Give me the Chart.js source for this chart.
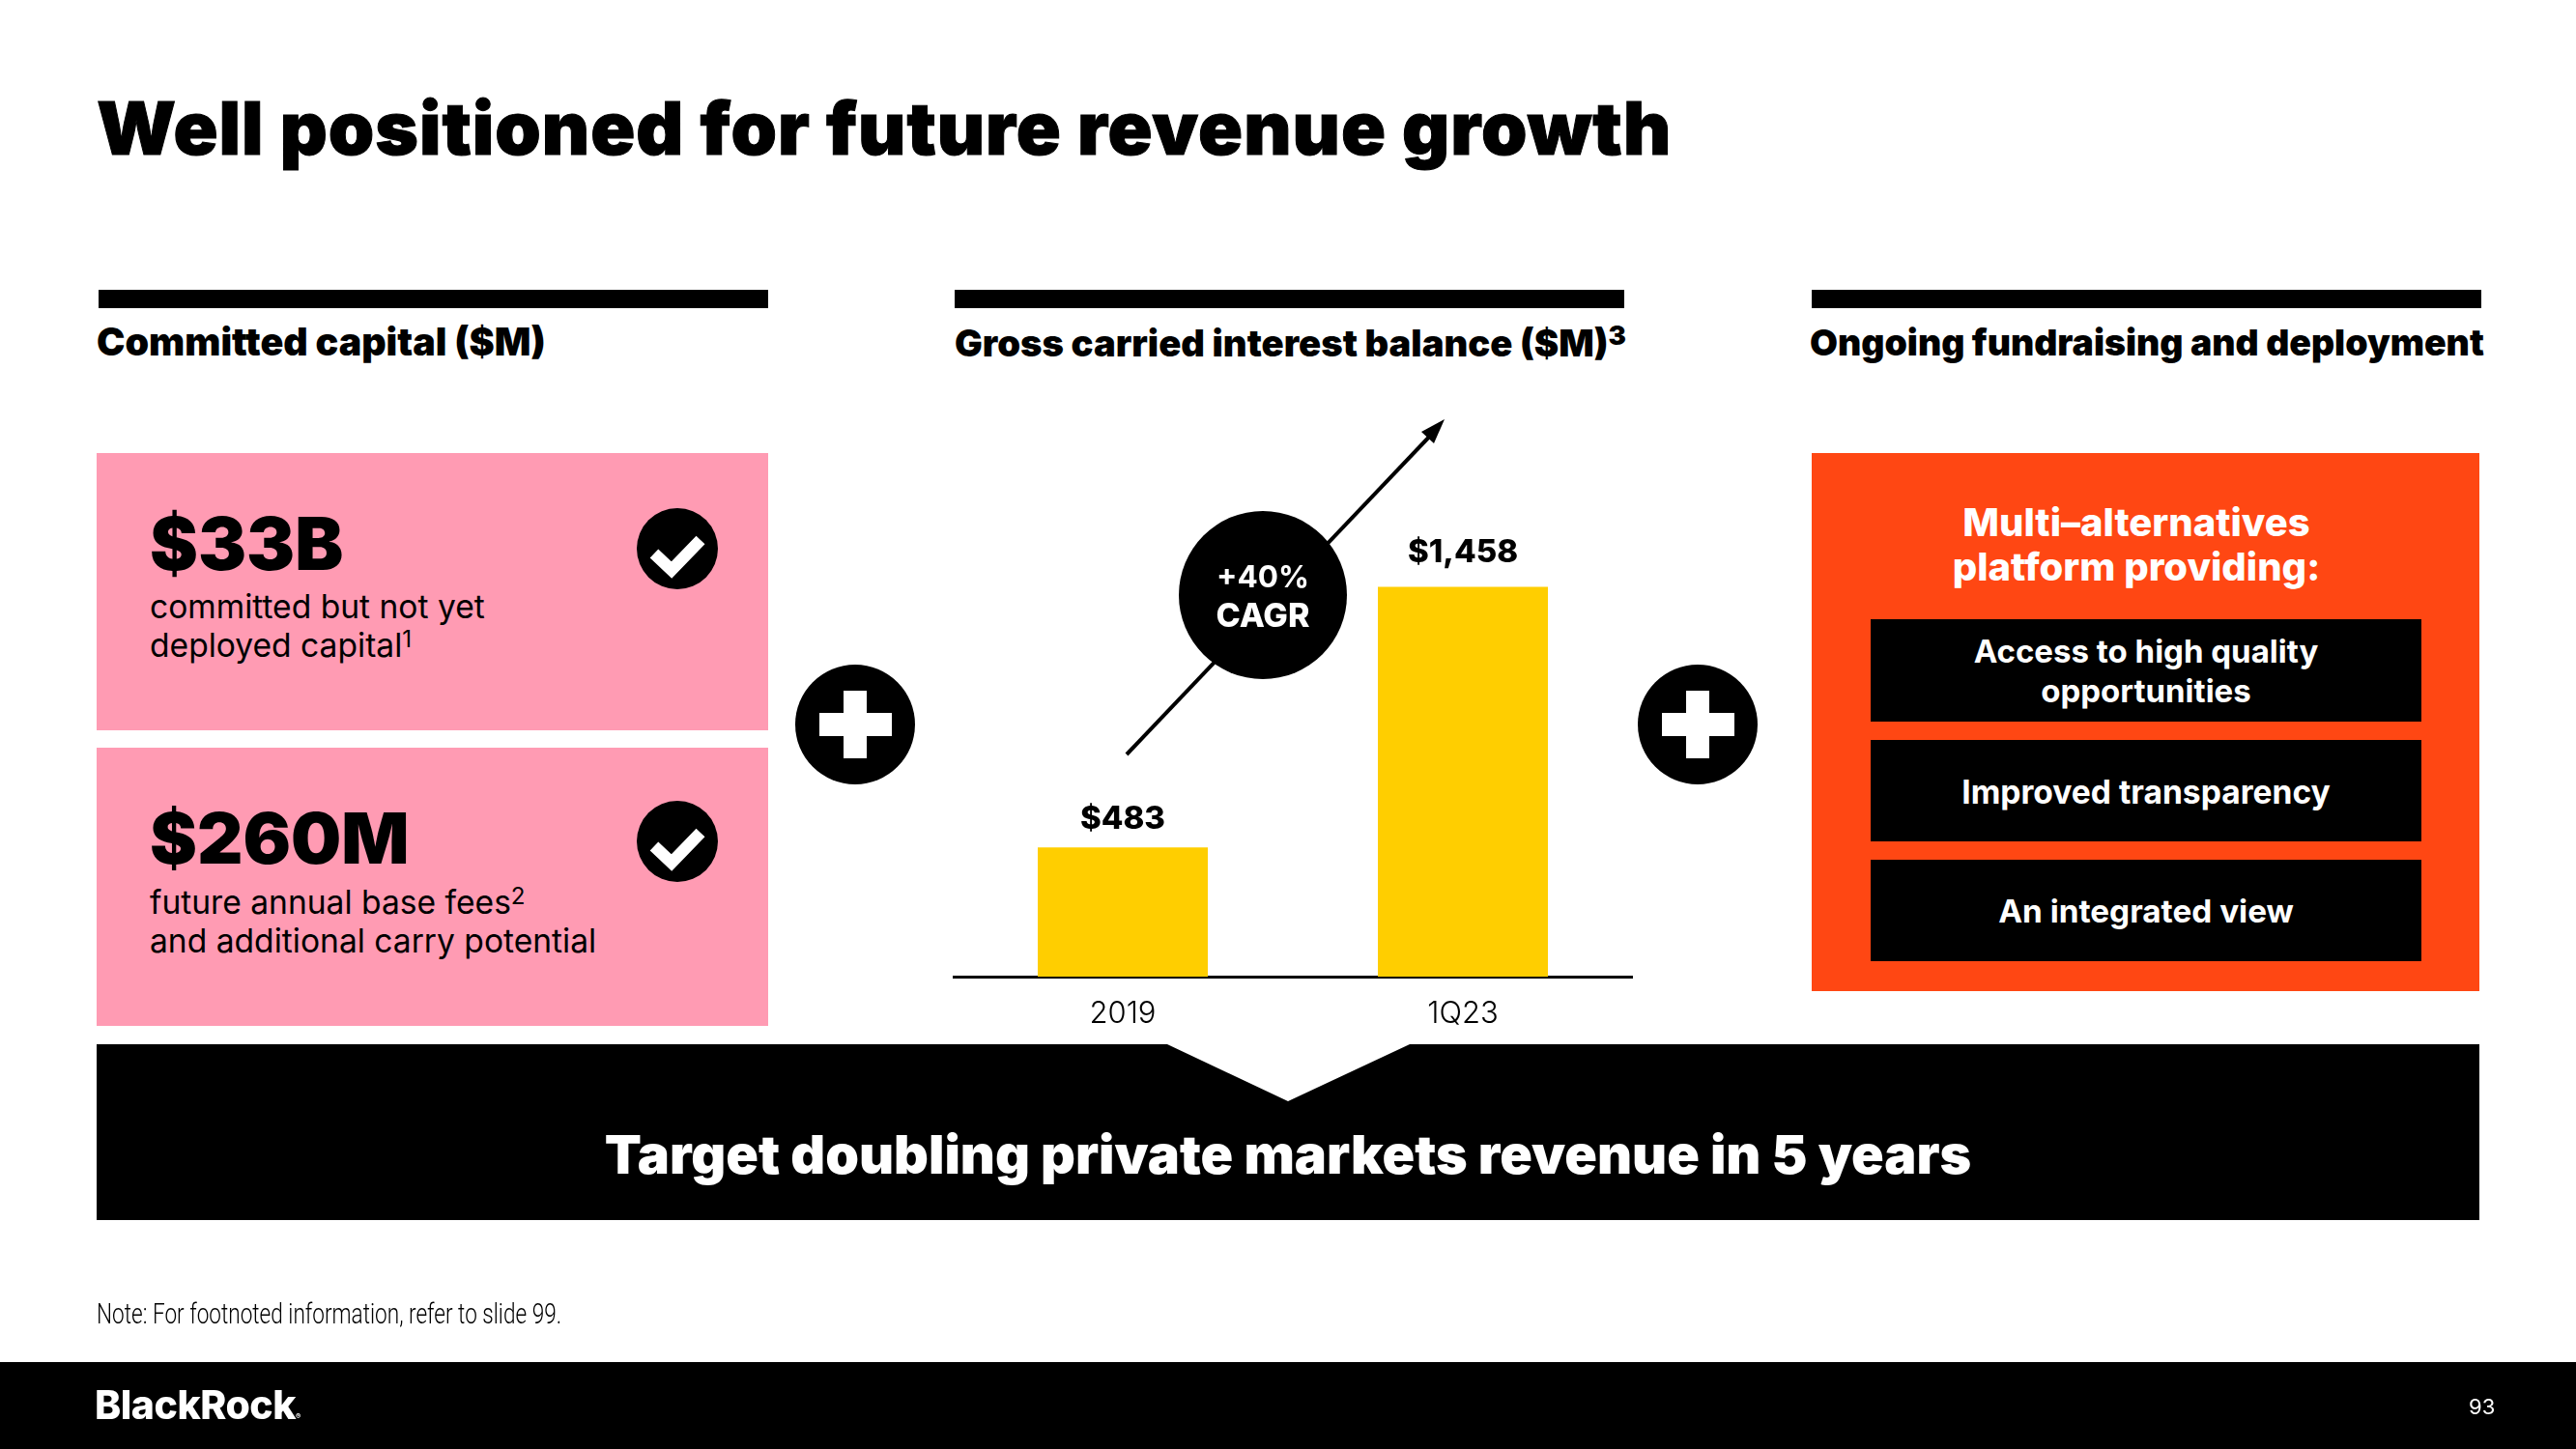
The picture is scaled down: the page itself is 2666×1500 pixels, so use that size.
<!DOCTYPE html>
<html><head><meta charset="utf-8">
<style>
html,body{margin:0;padding:0;background:#fff;}
#page{position:relative;width:2666px;height:1500px;overflow:hidden;background:#fff;font-family:Inter,"Noto Sans",sans-serif;color:#000;}
.a{position:absolute;}
.t{position:absolute;white-space:nowrap;line-height:1;transform-origin:0 50%;}
.c{text-align:center;transform-origin:50% 50%;}
sup{font-size:.72em;line-height:0;vertical-align:baseline;position:relative;top:-.42em;}
svg{position:absolute;left:0;top:0;}
</style></head><body>
<div id="page">
  <div class="t" style="left:100px;top:94px;font-size:76px;font-weight:900;letter-spacing:1px;-webkit-text-stroke:1px #000;">Well positioned for future revenue growth</div>

  <div class="a" style="left:102px;top:300px;width:693px;height:19px;background:#000"></div>
  <div class="a" style="left:988px;top:300px;width:693px;height:19px;background:#000"></div>
  <div class="a" style="left:1875px;top:300px;width:693px;height:19px;background:#000"></div>
  <div class="t" style="left:100px;top:335px;font-size:39.4px;font-weight:900;">Committed capital ($M)</div>
  <div class="t" style="left:988px;top:336px;font-size:38.2px;font-weight:900;">Gross carried interest balance ($M)<sup>3</sup></div>
  <div class="t" style="left:1873px;top:336px;font-size:37.4px;font-weight:900;">Ongoing fundraising and deployment</div>

  <div class="a" style="left:100px;top:469px;width:695px;height:287px;background:#ff9bb3"></div>
  <div class="a" style="left:100px;top:774px;width:695px;height:288px;background:#ff9bb3"></div>
  <div class="t" style="left:155px;top:525px;font-size:75px;font-weight:900;">$33B</div>
  <div class="t" style="left:155px;top:611px;font-size:33.6px;">committed but not yet</div>
  <div class="t" style="left:155px;top:651px;font-size:33.6px;">deployed capital<sup>1</sup></div>
  <div class="t" style="left:155px;top:831px;font-size:73.5px;font-weight:900;">$260M</div>
  <div class="t" style="left:155px;top:917px;font-size:33.6px;">future annual base fees<sup>2</sup></div>
  <div class="t" style="left:155px;top:957px;font-size:33.6px;">and additional carry potential</div>

  <div class="a" style="left:1875px;top:469px;width:691px;height:557px;background:#ff4713"></div>
  <div class="t c" style="left:1875px;width:672px;top:521px;font-size:40px;font-weight:800;color:#fff;">Multi&#8211;alternatives</div>
  <div class="t c" style="left:1875px;width:672px;top:567px;font-size:40px;font-weight:800;color:#fff;">platform providing:</div>
  <div class="a" style="left:1936px;top:641px;width:570px;height:106px;background:#000"></div>
  <div class="a" style="left:1936px;top:766px;width:570px;height:105px;background:#000"></div>
  <div class="a" style="left:1936px;top:890px;width:570px;height:105px;background:#000"></div>
  <div class="t c" style="left:1936px;width:570px;top:658px;font-size:33px;font-weight:700;color:#fff;">Access to high quality</div>
  <div class="t c" style="left:1936px;width:570px;top:699px;font-size:33px;font-weight:700;color:#fff;">opportunities</div>
  <div class="t c" style="left:1936px;width:570px;top:803px;font-size:33.6px;font-weight:700;color:#fff;">Improved transparency</div>
  <div class="t c" style="left:1936px;width:570px;top:927px;font-size:33.3px;font-weight:700;color:#fff;">An integrated view</div>

  <div class="a" id="chartBox" style="left:986px;top:513px;width:704px;height:558px;"><canvas id="c" width="704" height="558"></canvas></div>

  <svg width="2666" height="1500" viewBox="0 0 2666 1500">
    <circle cx="701" cy="568" r="42" fill="#000"/>
    <path d="M677 573 L695 590 L725 559" fill="none" stroke="#fff" stroke-width="12.5"/>
    <circle cx="701" cy="871" r="42" fill="#000"/>
    <path d="M677 876 L695 893 L725 862" fill="none" stroke="#fff" stroke-width="12.5"/>
    <circle cx="885" cy="750" r="62" fill="#000"/>
    <path d="M873 715 h24 v23 h26 v24 h-26 v23 h-24 v-23 h-25 v-24 h25z" fill="#fff"/>
    <circle cx="1757" cy="750" r="62" fill="#000"/>
    <path d="M1745 715 h24 v23 h26 v24 h-26 v23 h-24 v-23 h-25 v-24 h25z" fill="#fff"/>
    <line x1="1166" y1="781" x2="1485" y2="446" stroke="#000" stroke-width="4"/>
    <path d="M1495 434 L1471 447 L1484 459z" fill="#000"/>
    <circle cx="1307" cy="616" r="87" fill="#000"/>
    <path d="M100 1081 H1208 L1333 1140 L1459 1081 H2566 V1263 H100z" fill="#000"/>
    <rect x="0" y="1410" width="2666" height="90" fill="#000"/>
  </svg>

  <div class="t c" style="left:1207px;width:200px;top:581px;font-size:31.5px;font-weight:700;color:#fff;">+40%</div>
  <div class="t c" style="left:1207px;width:200px;top:620px;font-size:34px;font-weight:800;color:#fff;">CAGR</div>
  <div class="t c" style="left:100px;width:2466px;top:1167px;font-size:55.6px;font-weight:900;color:#fff;">Target doubling private markets revenue in 5 years</div>
  <div class="t" style="left:100px;top:1345px;font-size:30px;font-family:Roboto,sans-serif;font-weight:300;transform:scaleX(.753);">Note: For footnoted information, refer to slide 99.</div>
  <div class="t" style="left:98px;top:1434px;font-size:41px;font-weight:800;color:#fff;letter-spacing:-.5px;">BlackRock<span style="font-size:8px;letter-spacing:0">&#174;</span></div>
  <div class="t" style="left:2555px;top:1445px;font-size:22px;color:#fff;">93</div>
</div>
<script src="https://cdn.jsdelivr.net/npm/chart.js@4"></script>
<script>
const categories = ["2019", "1Q23"];
const balances = [483, 1458];
const valueLabels = ["$483", "$1,458"];

const barLabelPlugin = {
  id: "barLabels",
  afterDatasetsDraw(chart) {
    const ctx = chart.ctx, meta = chart.getDatasetMeta(0);
    ctx.save();
    ctx.fillStyle = "#000";
    ctx.font = "800 33px Inter";
    ctx.textAlign = "center";
    ctx.textBaseline = "alphabetic";
    meta.data.forEach((bar, i) => ctx.fillText(valueLabels[i], bar.x, bar.y - (i === 0 ? 19 : 26)));
    ctx.restore();
  }
};

new Chart(document.getElementById("c"), {
  type: "bar",
  data: { labels: categories, datasets: [{ data: balances, backgroundColor: "#ffce00", borderWidth: 0, barPercentage: 1, categoryPercentage: 0.5 }] },
  options: {
    responsive: false, animation: false,
    layout: { padding: 0 },
    plugins: { legend: { display: false }, tooltip: { enabled: false }, title: { display: false } },
    scales: {
      y: { display: false, min: 0, max: 1800 },
      x: {
        grid: { display: false, drawTicks: false },
        border: { display: true, color: "#000", width: 3 },
        ticks: { color: "#000", font: { family: "Inter", size: 31, weight: "300" }, padding: 20, maxRotation: 0 },
        afterFit(s) { s.height = 60; }
      }
    }
  },
  plugins: [barLabelPlugin]
});
</script>
</body></html>
